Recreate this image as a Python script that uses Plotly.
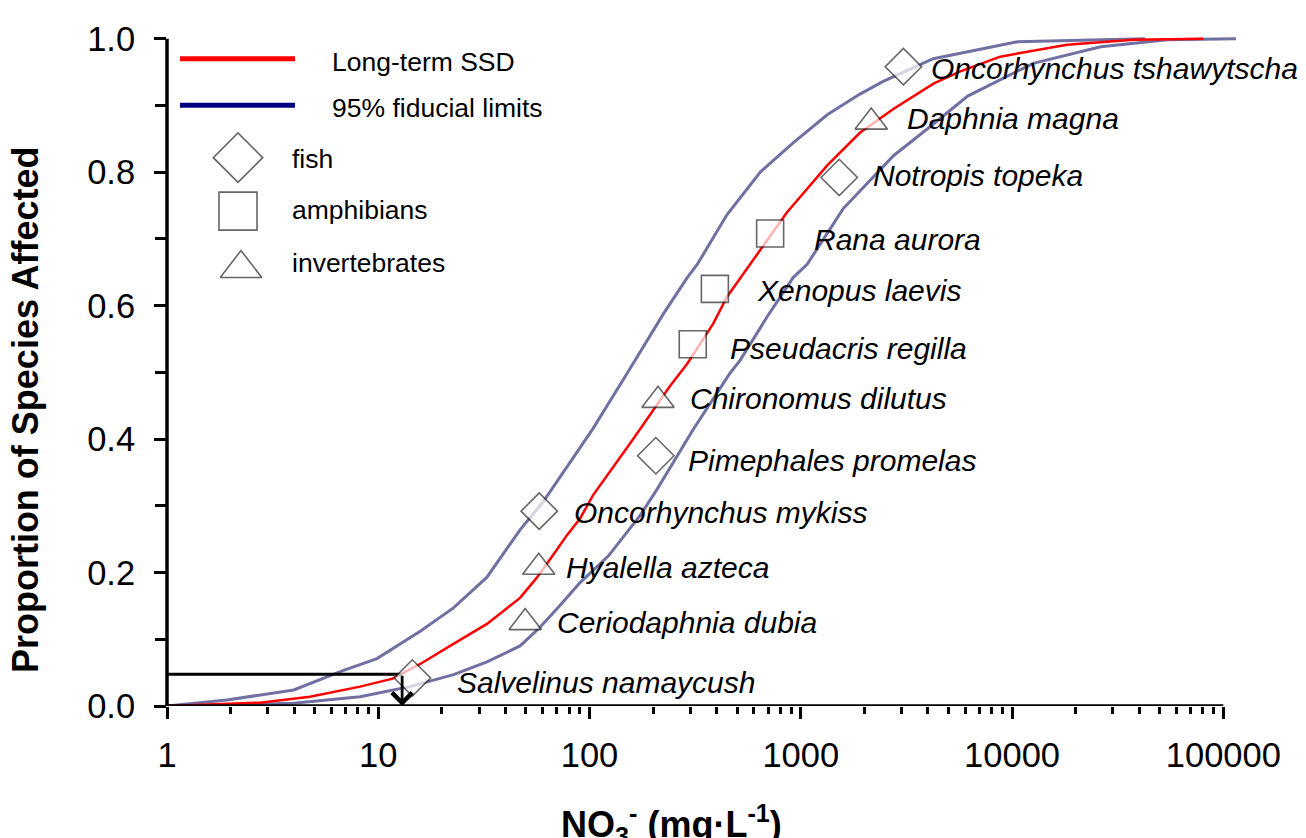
import numpy as np
import plotly.graph_objects as go

# ---------------- data ----------------
species = ["Salvelinus namaycush", "Ceriodaphnia dubia", "Hyalella azteca",
           "Oncorhynchus mykiss", "Pimephales promelas", "Chironomus dilutus",
           "Pseudacris regilla", "Xenopus laevis", "Rana aurora",
           "Notropis topeka", "Daphnia magna", "Oncorhynchus tshawytscha"]
groups = ["fish", "invertebrates", "invertebrates", "fish", "fish", "invertebrates",
          "amphibians", "amphibians", "amphibians", "fish", "invertebrates", "fish"]
conc = [14.5, 49.6, 57.5, 57.8, 206, 211, 308, 392, 716, 1520, 2155, 3060]
prop = [0.042, 0.125, 0.208, 0.292, 0.375, 0.458, 0.542, 0.625, 0.708, 0.792, 0.875, 0.958]

ssd_x = [1, 2.75, 4.75, 8.2, 11.7, 15.8, 22.7, 32.7, 46.9, 56.2, 67.5, 78.2, 90.2, 104,
         161, 240, 290, 385, 447, 575, 861, 1334, 1905, 2754, 4266, 5690, 8790, 18200,
         37600, 80400]
ssd_y = [0.0, 0.005, 0.014, 0.029, 0.041, 0.063, 0.093, 0.123, 0.162, 0.192, 0.227, 0.256,
         0.281, 0.316, 0.40, 0.479, 0.513, 0.573, 0.613, 0.662, 0.74, 0.81, 0.859, 0.895,
         0.933, 0.951, 0.973, 0.991, 0.9985, 1.0]

upper_x = [1, 1.92, 3.98, 6.8, 9.86, 15.8, 22.7, 32.7, 46.9, 60.3, 87.1, 104, 151, 224,
           290, 324, 447, 643, 920, 1334, 1905, 2455, 4236, 10590, 42660]
upper_y = [0.0, 0.009, 0.024, 0.053, 0.071, 0.112, 0.147, 0.193, 0.264, 0.306, 0.38,
           0.416, 0.499, 0.588, 0.642, 0.662, 0.736, 0.80, 0.844, 0.886, 0.917, 0.936,
           0.97, 0.9955, 1.0]

lower_x = [1, 3.98, 8.2, 14.1, 22.7, 32.7, 46.9, 58.3, 72.6, 90.2, 123, 174, 209, 309,
           463, 516, 692, 920, 1072, 1585, 2754, 3981, 6166, 12590, 26300, 54330, 114800]
lower_y = [0.0, 0.004, 0.014, 0.029, 0.047, 0.066, 0.09, 0.118, 0.151, 0.185, 0.225,
           0.286, 0.325, 0.414, 0.499, 0.518, 0.583, 0.642, 0.662, 0.745, 0.825, 0.865,
           0.914, 0.963, 0.988, 0.9985, 1.0]

hc5_conc = 12.97
hc5_prop = 0.0475

x_tick_vals = [1, 10, 100, 1000, 10000, 100000]
x_tick_text = ["1", "10", "100", "1000", "10000", "100000"]
y_tick_vals = [0.0, 0.2, 0.4, 0.6, 0.8, 1.0]
y_tick_text = ["0.0", "0.2", "0.4", "0.6", "0.8", "1.0"]

# ---------------- style ----------------
FONT = "Liberation Sans, Arial, sans-serif"
X_LOG_MAX = 5.06
Y_MAX = 1.01
MARK_EDGE = "#262626"
symbol_of = {"fish": "diamond", "amphibians": "square", "invertebrates": "triangle-up"}
size_of = {"fish": 28, "amphibians": 27, "invertebrates": 28}
# label offsets in pixels (dx right, dy down)
label_dx = [43, 30, 25, 33, 30, 30, 35, 40, 42, 32, 34, 26]
label_dy = [5, 0, 0, 1, 5, -2, 4, 2, 6, -2, -4, 2]

fig = go.Figure()

fig.add_trace(go.Scatter(x=upper_x, y=upper_y, mode="lines",
                         line=dict(color="#7070A2", width=3), showlegend=False))
fig.add_trace(go.Scatter(x=lower_x, y=lower_y, mode="lines",
                         line=dict(color="#7070A2", width=3), showlegend=False))
fig.add_trace(go.Scatter(x=ssd_x, y=ssd_y, mode="lines",
                         line=dict(color="#FF0000", width=2.5), showlegend=False))

# HC5 horizontal line
fig.add_trace(go.Scatter(x=[1, hc5_conc], y=[hc5_prop, hc5_prop], mode="lines",
                         line=dict(color="black", width=3), showlegend=False))

# species points
fig.add_trace(go.Scatter(
    x=conc, y=prop, mode="markers",
    marker=dict(symbol=[symbol_of[g] for g in groups],
                size=[size_of[g] for g in groups],
                color="white", line=dict(color=MARK_EDGE, width=1.6)),
    showlegend=False, cliponaxis=False))

annotations = []
for name, c, p, dx, dy in zip(species, conc, prop, label_dx, label_dy):
    annotations.append(dict(x=np.log10(c), y=p, xref="x", yref="y", text="<i>" + name + "</i>",
                            showarrow=False, xanchor="left", yanchor="middle",
                            xshift=dx, yshift=-dy,
                            font=dict(family=FONT, size=30, color="black")))

# HC5 arrow
annotations.append(dict(x=np.log10(hc5_conc), y=0, ax=np.log10(hc5_conc), ay=hc5_prop,
                        xref="x", yref="y", axref="x", ayref="y", text="",
                        showarrow=True, arrowhead=4, arrowsize=1.4, arrowwidth=2.8,
                        arrowcolor="black", standoff=0, startstandoff=0))

# axis titles
annotations.append(dict(x=0, y=0.439, xref="paper", yref="paper", xshift=-142,
                        text="<b>Proportion of Species Affected</b>", textangle=-90,
                        showarrow=False, xanchor="center", yanchor="middle",
                        font=dict(family=FONT, size=36, color="black")))
annotations.append(dict(x=(671 - 167) / 1069, y=-0.176,
                        xref="paper", yref="paper",
                        text="<b>NO<sub>3</sub><sup>-</sup> (mg·L<sup>-1</sup>)</b>",
                        showarrow=False, xanchor="center", yanchor="middle",
                        font=dict(family=FONT, size=36, color="black")))

# custom legend (positions measured in the 1306x838 picture, plot area 167..1236 x 25..706)
def px2paper(px, py):
    return (px - 167) / 1069, (706 - py) / 681

shapes = []
for (ly, col) in [(52, "#FF0000"), (99, "#000080")]:
    x0, y0 = px2paper(180, ly)
    x1, _ = px2paper(295, ly)
    shapes.append(dict(type="line", xref="paper", yref="paper", x0=x0, x1=x1, y0=y0, y1=y0,
                       line=dict(color=col, width=5)))
legend_texts = [("Long-term SSD", 330, 55), ("95% fiducial limits", 330, 102),
                ("fish", 290, 153), ("amphibians", 290, 205), ("invertebrates", 290, 258)]
for t, lx, ly in legend_texts:
    ax_, ay_ = px2paper(lx, ly)
    annotations.append(dict(x=ax_, y=ay_, xref="paper", yref="paper", text=t, showarrow=False,
                            xanchor="left", yanchor="middle",
                            font=dict(family=FONT, size=26.5, color="black")))

# axis lines (drawn up to the last major tick)
shapes.append(dict(type="line", xref="paper", yref="y", x0=0, x1=5 / X_LOG_MAX, y0=0, y1=0,
                   line=dict(color="black", width=3.5), layer="above"))
shapes.append(dict(type="line", xref="paper", yref="y", x0=0, x1=0, y0=0, y1=1.0,
                   line=dict(color="black", width=3.5), layer="above"))

# legend symbols on a hidden overlay axis in plot-fraction units
leg_sym = ["diamond", "square", "triangle-up"]
leg_size = [38, 38, 36]
leg_px = [(238, 152), (238, 206), (241, 264)]
fig.add_trace(go.Scatter(
    x=[px2paper(a, b)[0] for a, b in leg_px], y=[px2paper(a, b)[1] for a, b in leg_px],
    xaxis="x2", yaxis="y2", mode="markers",
    marker=dict(symbol=leg_sym, size=leg_size, color="white",
                line=dict(color=MARK_EDGE, width=1.6)),
    showlegend=False, cliponaxis=False))

minor_x = [m * 10 ** k for k in range(5) for m in range(2, 10)]

# the page body adds an 8px margin, so the figure is 8px smaller and shifted
fig.update_layout(
    width=1298, height=830,
    margin=dict(l=159, r=70, t=17, b=132),
    paper_bgcolor="white", plot_bgcolor="white",
    showlegend=False,
    font=dict(family=FONT, color="black"),
    xaxis=dict(type="log", range=[0, X_LOG_MAX], showline=False, showgrid=False,
               zeroline=False, ticks="outside", tickvals=x_tick_vals, ticktext=x_tick_text,
               ticklen=12, tickwidth=3, tickcolor="black",
               tickfont=dict(family=FONT, size=34.5, color="black"),
               ticklabelstandoff=7,
               minor=dict(tickvals=minor_x, ticks="outside", ticklen=7, tickwidth=2.5,
                          tickcolor="black", showgrid=False)),
    yaxis=dict(range=[0, Y_MAX], showline=False, showgrid=False, zeroline=False,
               ticks="outside", tickvals=y_tick_vals, ticktext=y_tick_text,
               ticklen=12, tickwidth=3, tickcolor="black",
               tickfont=dict(family=FONT, size=34.5, color="black"),
               ticklabelstandoff=12,
               minor=dict(tickvals=[0.1, 0.3, 0.5, 0.7, 0.9], ticks="outside", ticklen=11,
                          tickwidth=3, tickcolor="black", showgrid=False)),
    xaxis2=dict(overlaying="x", range=[0, 1], visible=False, fixedrange=True),
    yaxis2=dict(overlaying="y", range=[0, 1], visible=False, fixedrange=True),
    annotations=annotations,
    shapes=shapes,
)

fig.write_html("out.html")
